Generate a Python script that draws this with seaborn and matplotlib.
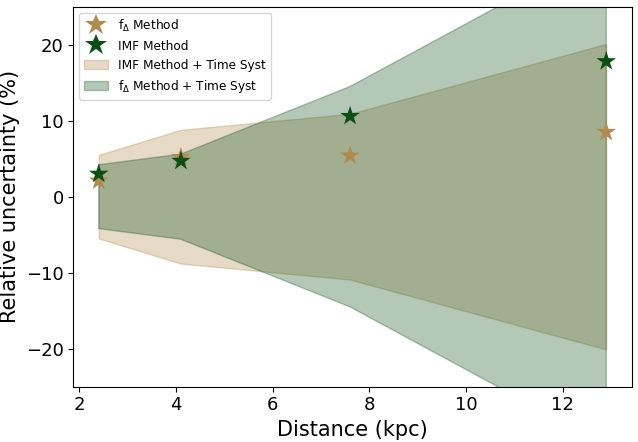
import numpy as np
import pandas as pd
import seaborn as sns
import matplotlib
matplotlib.use("Agg")
import matplotlib.pyplot as plt

# values
distance = [2.4, 4.1, 7.6, 12.9]
fdelta_unc = [2.1, 5.2, 5.4, 8.5]
imf_unc = [3.0, 4.7, 10.6, 17.8]
imf_time_band = [5.5, 8.8, 10.9, 20.1]
fdelta_time_band = [4.2, 5.6, 14.5, 32.7]

tan = "#b38a4e"
green = "#0a4f16"

df = pd.DataFrame({
    "distance": distance * 2,
    "unc": fdelta_unc + imf_unc,
    "method": [r"f$_\Delta$ Method"] * 4 + ["IMF Method"] * 4,
})

sns.set_style("ticks", {"text.color": "black", "axes.labelcolor": "black",
                        "xtick.color": "black", "ytick.color": "black",
                        "axes.edgecolor": "black"})
plt.rcParams["font.family"] = ["DejaVu Sans"]

fig, ax = plt.subplots(figsize=(6.38, 4.42), dpi=100)

sns.scatterplot(data=df, x="distance", y="unc", hue="method",
                palette=[tan, green], marker="*", s=220, edgecolor="none",
                ax=ax, zorder=3)

d = np.array(distance)
b1 = np.array(imf_time_band)
b2 = np.array(fdelta_time_band)
ax.fill_between(d, -b1, b1, color=tan, alpha=0.32, label="IMF Method + Time Syst")
ax.fill_between(d, -b2, b2, color=green, alpha=0.31, label=r"f$_\Delta$ Method + Time Syst")

ax.set_ylim(-25, 25)
ax.set_xlabel("Distance (kpc)", fontsize=15)
ax.set_ylabel("Relative uncertainty (%)", fontsize=15)
ax.tick_params(labelsize=13)

ax.legend(loc="upper left", fontsize=8.7, title=None, markerscale=1.1)

fig.subplots_adjust(left=0.115, right=0.99, top=0.985, bottom=0.125)
fig.savefig("out.png", dpi=100)
